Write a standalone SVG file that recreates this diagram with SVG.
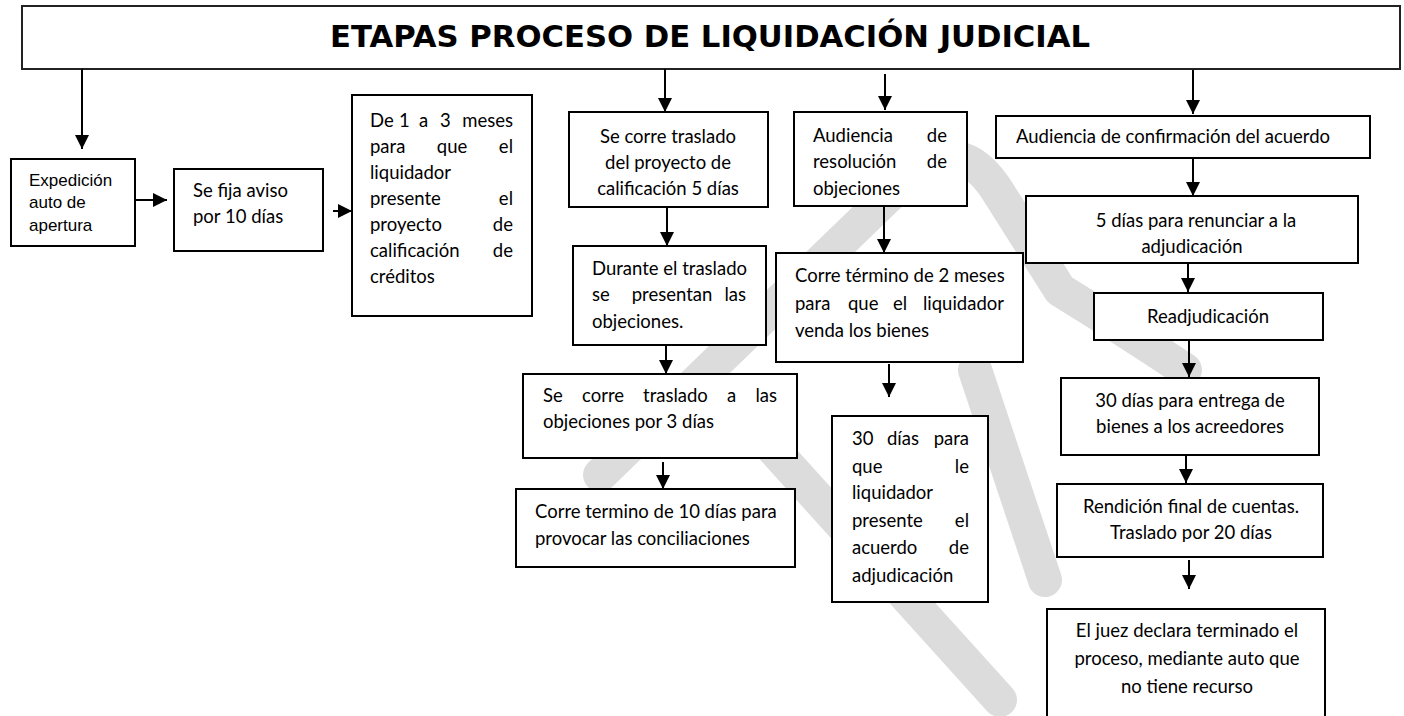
<svg xmlns="http://www.w3.org/2000/svg" width="1404" height="716" viewBox="0 0 1404 716">
<defs>
<marker id="ah" markerUnits="userSpaceOnUse" markerWidth="14" markerHeight="14" refX="14" refY="7" orient="auto">
<path d="M0,0 L14,7 L0,14 z" fill="#000"/>
</marker>
<style>
.box{fill:#fff;stroke:#000;stroke-width:2}
.t{font-family:Lato,"Open Sans",sans-serif;font-size:18.5px;fill:#000}
.a{font-family:"Liberation Sans",Arial,sans-serif;font-size:17px;fill:#000}
.c{text-anchor:middle}
.e{text-anchor:end}
.ln{stroke:#000;stroke-width:2;fill:none;marker-end:url(#ah)}
.wm{stroke:#dcdcdc;stroke-width:34;fill:none;stroke-linecap:round;stroke-linejoin:round}
</style>
</defs>
<rect width="1404" height="716" fill="#fff"/>
<g id="watermark">
<path class="wm" d="M600,475 L905,180 Q960,128 1000,195 L1060,290 Q1125,330 1185,370"/>
<path class="wm" d="M975,370 L1045,580"/>
<path class="wm" d="M720,390 L1000,700"/>
</g>
<g id="title">
<rect x="22" y="6" width="1378" height="63" fill="#fff" stroke="#222" stroke-width="2"/>
<text x="710" y="47" text-anchor="middle" font-family="'DejaVu Sans',Verdana,sans-serif" font-weight="bold" font-size="30" textLength="760" lengthAdjust="spacingAndGlyphs">ETAPAS PROCESO DE LIQUIDACIÓN JUDICIAL</text>
</g>
<g id="connectors">
<line class="ln" x1="82" y1="69" x2="82" y2="149"/>
<line class="ln" x1="665" y1="69" x2="665" y2="112"/>
<line class="ln" x1="885" y1="74" x2="885" y2="110"/>
<line class="ln" x1="1193" y1="70" x2="1193" y2="114"/>
<line class="ln" x1="135" y1="200" x2="167" y2="200"/>
<line class="ln" x1="333" y1="211" x2="352" y2="211"/>
<line class="ln" x1="667" y1="207" x2="667" y2="246"/>
<line class="ln" x1="884" y1="206" x2="884" y2="253"/>
<line class="ln" x1="1193" y1="158" x2="1193" y2="196"/>
<line class="ln" x1="1188" y1="263" x2="1188" y2="292"/>
<line class="ln" x1="666" y1="345" x2="666" y2="374"/>
<line class="ln" x1="1189" y1="340" x2="1189" y2="377"/>
<line class="ln" x1="663" y1="462" x2="663" y2="489"/>
<line class="ln" x1="889" y1="364" x2="889" y2="397"/>
<line class="ln" x1="1186" y1="456" x2="1186" y2="483"/>
<line class="ln" x1="1189" y1="560" x2="1189" y2="589"/>
</g>
<g id="n-expedicion">
<rect class="box" x="11" y="159" width="124" height="87"/>
<text class="a" x="29" y="186">Expedición</text>
<text class="a" x="29" y="208">auto de</text>
<text class="a" x="29" y="231">apertura</text>
</g>
<g id="n-aviso">
<rect class="box" x="174" y="169" width="149" height="82"/>
<text class="t" x="193" y="197">Se fija aviso</text>
<text class="t" x="193" y="223">por 10 días</text>
</g>
<g id="n-meses">
<rect class="box" x="352" y="95" width="180" height="221"/>
<text class="t" x="370" y="127">De</text><text class="t" x="399" y="127">1</text><text class="t" x="419" y="127">a</text><text class="t" x="440" y="127">3</text><text class="t e" x="513" y="127">meses</text>
<text class="t" x="370" y="153">para</text><text class="t c" x="452" y="153">que</text><text class="t e" x="513" y="153">el</text>
<text class="t" x="370" y="179">liquidador</text>
<text class="t" x="370" y="205">presente</text><text class="t e" x="513" y="205">el</text>
<text class="t" x="370" y="231">proyecto</text><text class="t e" x="513" y="231">de</text>
<text class="t" x="370" y="257">calificación</text><text class="t e" x="513" y="257">de</text>
<text class="t" x="370" y="283">créditos</text>
</g>
<g id="n-traslado-proyecto">
<rect class="box" x="569" y="112" width="199" height="95"/>
<text class="t c" x="668" y="143">Se corre traslado</text>
<text class="t c" x="668" y="169">del proyecto de</text>
<text class="t c" x="668" y="195">calificación 5 días</text>
</g>
<g id="n-audiencia-objeciones">
<rect class="box" x="794" y="112" width="173" height="94"/>
<text class="t" x="813" y="142">Audiencia</text><text class="t e" x="947" y="142">de</text>
<text class="t" x="813" y="168">resolución</text><text class="t e" x="947" y="168">de</text>
<text class="t" x="813" y="195">objeciones</text>
</g>
<g id="n-audiencia-confirmacion">
<rect class="box" x="996" y="116" width="374" height="42"/>
<text class="t" x="1016" y="143">Audiencia de confirmación del acuerdo</text>
</g>
<g id="n-renunciar">
<rect class="box" x="1026" y="196" width="332" height="67"/>
<text class="t c" x="1196" y="227">5 días para renunciar a la</text>
<text class="t c" x="1192" y="253">adjudicación</text>
</g>
<g id="n-readjudicacion">
<rect class="box" x="1094" y="293" width="229" height="47"/>
<text class="t c" x="1208" y="323">Readjudicación</text>
</g>
<g id="n-entrega">
<rect class="box" x="1061" y="378" width="258" height="77"/>
<text class="t c" x="1190" y="407">30 días para entrega de</text>
<text class="t c" x="1190" y="433">bienes a los acreedores</text>
</g>
<g id="n-rendicion">
<rect class="box" x="1057" y="484" width="266" height="73"/>
<text class="t c" x="1191" y="513">Rendición final de cuentas.</text>
<text class="t c" x="1191" y="539">Traslado por 20 días</text>
</g>
<g id="n-juez">
<rect class="box" x="1047" y="609" width="278" height="120"/>
<text class="t c" x="1187" y="637">El juez declara terminado el</text>
<text class="t c" x="1187" y="665">proceso, mediante auto que</text>
<text class="t c" x="1187" y="693">no tiene recurso</text>
</g>
<g id="n-durante">
<rect class="box" x="573" y="246" width="193" height="99"/>
<text class="t" x="592" y="275">Durante el traslado</text>
<text class="t" x="592" y="301">se</text><text class="t c" x="672" y="301">presentan</text><text class="t e" x="746" y="301">las</text>
<text class="t" x="592" y="328">objeciones.</text>
</g>
<g id="n-corre-venda">
<rect class="box" x="776" y="253" width="247" height="109"/>
<text class="t" x="795" y="282">Corre término de 2 meses</text>
<text class="t" x="795" y="310">para</text><text class="t" x="848" y="310">que</text><text class="t" x="893" y="310">el</text><text class="t e" x="1004" y="310">liquidador</text>
<text class="t" x="795" y="337">venda los bienes</text>
</g>
<g id="n-traslado-objeciones">
<rect class="box" x="523" y="374" width="274" height="84"/>
<text class="t" x="543" y="402">Se</text><text class="t" x="582" y="402">corre</text><text class="t" x="643" y="402">traslado</text><text class="t" x="727" y="402">a</text><text class="t e" x="777" y="402">las</text>
<text class="t" x="543" y="428">objeciones por 3 días</text>
</g>
<g id="n-conciliaciones">
<rect class="box" x="516" y="489" width="279" height="78"/>
<text class="t" x="535" y="518">Corre termino de 10 días para</text>
<text class="t" x="535" y="545">provocar las conciliaciones</text>
</g>
<g id="n-acuerdo">
<rect class="box" x="832" y="416" width="156" height="186"/>
<text class="t" x="852" y="445">30</text><text class="t" x="887" y="445">días</text><text class="t e" x="969" y="445">para</text>
<text class="t" x="852" y="473">que</text><text class="t e" x="969" y="473">le</text>
<text class="t" x="852" y="499">liquidador</text>
<text class="t" x="852" y="527">presente</text><text class="t e" x="969" y="527">el</text>
<text class="t" x="852" y="554">acuerdo</text><text class="t e" x="969" y="554">de</text>
<text class="t" x="852" y="582">adjudicación</text>
</g>
</svg>
